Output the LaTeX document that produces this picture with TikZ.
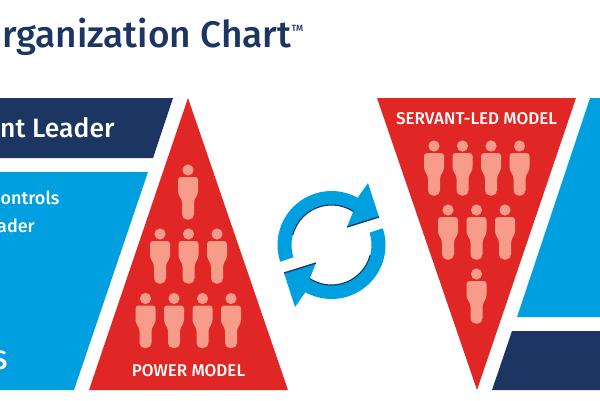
\documentclass[tikz,border=0pt]{standalone}
\usepackage{fontspec}
\setmainfont{Fira Sans}[BoldFont={Fira Sans Medium}]
\usetikzlibrary{calc}
\definecolor{NavyBlue}{HTML}{1C3563}
\definecolor{SkyBlue}{HTML}{009FDF}
\definecolor{ModelRed}{HTML}{E12726}
\definecolor{PersonPink}{HTML}{F79C89}
\tikzset{
  titulo/.style   = {font=\bfseries\fontsize{37}{37}\selectfont, text=NavyBlue, anchor=base west, inner sep=0pt},
  enbanda/.style  = {font=\bfseries\fontsize{26.5}{26.5}\selectfont, text=white, anchor=base west, inner sep=0pt},
  encaja/.style   = {font=\bfseries\fontsize{18}{18}\selectfont, text=white, anchor=base west, inner sep=0pt},
  modelo/.style   = {font=\bfseries\fontsize{17}{17}\selectfont, text=white, anchor=base, inner sep=0pt},
  persona/.pic    = {
    \fill[PersonPink] (0,0) circle (5.6pt);
    \fill[PersonPink, rounded corners=3pt] (-10,7) -- (10,7) -- (10,24) -- (6,30) [rounded corners=5pt] -- (6,49.5) -- (-6,49.5) [rounded corners=3pt] -- (-6,30) -- (-10,24) -- cycle;
  },
}
\begin{document}
\begin{tikzpicture}[x=1pt,y=-1pt]
  \useasboundingbox (0,0) rectangle (600,400);
  \clip (0,0) rectangle (600,400);
  % bands
  \fill[NavyBlue] (0,98) -- (173,98) -- (153,158) -- (0,158) -- cycle;
  \fill[SkyBlue] (0,172) -- (148,172) -- (74,390) -- (0,390) -- cycle;
  \fill[SkyBlue] (590,98) -- (600,98) -- (600,317) -- (517,317) -- cycle;
  \fill[NavyBlue] (512,331) -- (600,331) -- (600,390) -- (492,390) -- cycle;
  % triangles
  \fill[ModelRed] (188,98) -- (288,390) -- (89,390) -- cycle;
  \fill[ModelRed] (377,98) -- (576,98) -- (477,390) -- cycle;
  % people
  \pic at (188,170) {persona};
  \foreach \px in {160,188.5,217} \pic at (\px,234) {persona};
  \foreach \px in {145.5,174,202.5,231} \pic at (\px,298.5) {persona};
  \foreach \px in {434,462.5,491,519.5} \pic at (\px,146) {persona};
  \foreach \px in {448,476.5,505} \pic at (\px,210) {persona};
  \pic at (476.5,274) {persona};
  % cycle arrows
  \coordinate (giro) at (331.5,245);
  \foreach \ang in {0,180} {
    \begin{scope}[rotate around={\ang:(giro)}]
      \fill[SkyBlue] ($(giro)+(198:54pt)$) arc[start angle=198,end angle=61,radius=54pt]
        -- ($(giro)+(36.5,-62)$) -- ($(giro)+(47.5,-28)$) -- ($(giro)+(15.5,-18)$)
        -- ($(giro)+(57:40pt)$) arc[start angle=57,end angle=198,radius=40pt] -- cycle;
      \draw[NavyBlue, line width=1.3pt] ($(giro)+(47.5,-28)$) -- ($(giro)+(15.5,-18)$);
      \draw[NavyBlue, line width=1.1pt] ($(giro)+(165:40pt)$) arc[start angle=165,end angle=57,radius=40pt];
    \end{scope}
  }
  % text
  \node[titulo] (title) at (2,47) {rganization Chart};
  \node[font=\bfseries\fontsize{9}{9}\selectfont, text=NavyBlue, anchor=base west, inner sep=0pt] (tm) at (title.base east) [yshift=16pt] {TM};
  \node[enbanda] (lead) at (0,137) {nt Leader};
  \node[encaja] (ctrl) at (0.5,204) {ontrols};
  \node[encaja] (lder) at (-3,232) {ader};
  \node[enbanda] (ess) at (-7.5,369) {S};
  \node[modelo] (power) at (188.5,376) {POWER MODEL};
  \node[modelo] (servant) at (476.5,124) {SERVANT-LED MODEL};
\end{tikzpicture}
\end{document}
